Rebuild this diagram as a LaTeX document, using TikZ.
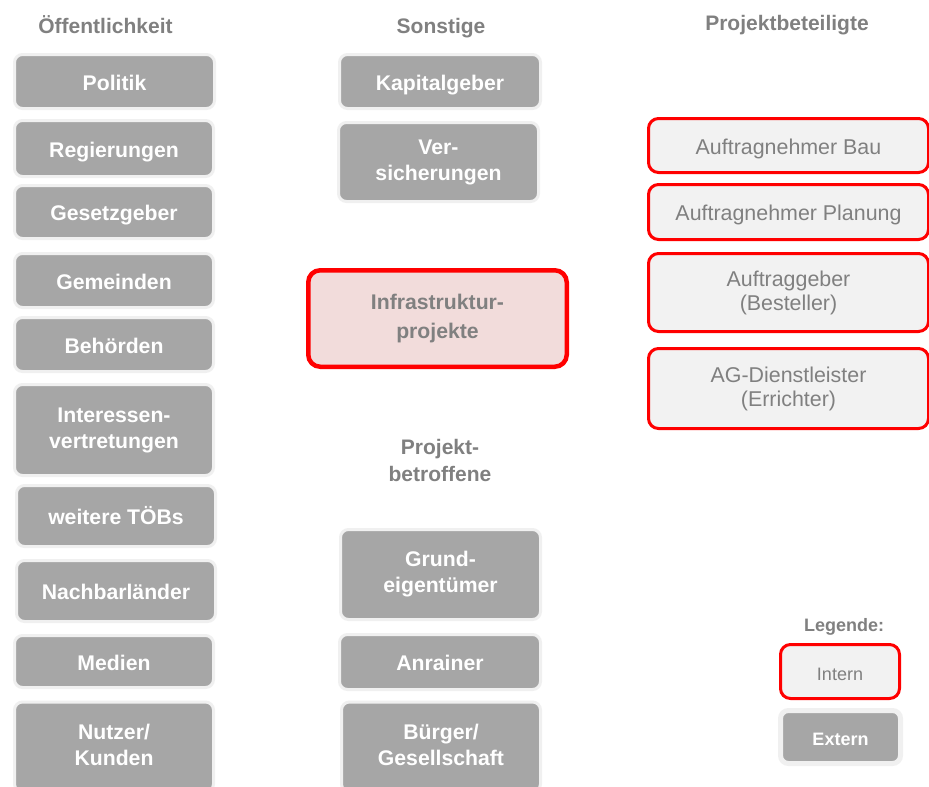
\documentclass[tikz,border=0pt]{standalone}
\usepackage{fontspec}
\setmainfont{Liberation Sans}
\definecolor{boxgray}{HTML}{A6A6A6}
\definecolor{rimgray}{HTML}{F0F0F0}
\definecolor{txtgray}{HTML}{808080}
\definecolor{lightfill}{HTML}{F2F2F2}
\definecolor{pinkfill}{HTML}{F2DCDB}
\definecolor{strongred}{HTML}{FF0000}
% struts that give every line of box text the same height and depth
\newcommand{\topstrut}[1]{\rule{0pt}{#1}}
\newcommand{\botstrut}[1]{\rule[-#1]{0pt}{#1}}
\tikzset{
  struts/.style 2 args={execute at begin node={\topstrut{#1}},
    execute at end node={\botstrut{#2}}},
  ext/.style={rounded corners=8pt, fill=boxgray, draw=rimgray, line width=3pt,
    text=white, font=\bfseries\fontsize{21.2}{26}\selectfont, align=center,
    inner sep=0pt, struts={22pt}{4.5pt}},
  int/.style={rounded corners=10pt, fill=lightfill, draw=strongred, line width=3pt,
    text=txtgray, font=\fontsize{21.4}{24}\selectfont, align=center,
    inner sep=0pt, struts={21.5pt}{4.5pt}},
  core/.style={rounded corners=12pt, fill=pinkfill, draw=strongred, line width=4.5pt,
    text=txtgray, font=\bfseries\fontsize{21.2}{29}\selectfont, align=center,
    inner sep=0pt, struts={22.5pt}{4.5pt}},
  hdr/.style={text=txtgray, font=\bfseries\fontsize{21}{27}\selectfont, align=center, inner sep=0pt},
}
\begin{document}
\begin{tikzpicture}[x=1pt, y=-1pt]
\useasboundingbox[fill=white] (0,0) rectangle (929,787);

% column headers
\node[hdr, anchor=base] (hOeff) at (105.5,34) {Öffentlichkeit};
\node[hdr, anchor=base] (hSonst) at (441,34) {Sonstige};
\node[hdr, anchor=base] (hBet) at (787,30) {Projektbeteiligte};
\node[hdr] (hBetr) at (440,460) {Projekt-\\betroffene};

% public side
\node[ext, minimum width=200pt, minimum height=54pt] (politik) at (114.5,81.5) {Politik};
\node[ext, minimum width=199pt, minimum height=56pt] (regierung) at (114,148.5) {Regierungen};
\node[ext, minimum width=199pt, minimum height=53pt] (gesetz) at (114,212) {Gesetzgeber};
\node[ext, minimum width=199pt, minimum height=54pt] (gemeinden) at (114,280.5) {Gemeinden};
\node[ext, minimum width=199pt, minimum height=54pt] (behoerden) at (114,344.5) {Behörden};
\node[ext, minimum width=199pt, minimum height=91pt] (interessen) at (114,430) {Interessen-\\vertretungen};
\node[ext, minimum width=199pt, minimum height=61pt] (toeb) at (116,516) {weitere TÖBs};
\node[ext, minimum width=199pt, minimum height=61pt] (nachbar) at (116,591) {Nachbarländer};
\node[ext, minimum width=199pt, minimum height=52pt] (medien) at (114,661.5) {Medien};
\node[ext, minimum width=199pt, minimum height=90pt] (nutzer) at (114,747) {Nutzer/\\Kunden};

% other parties
\node[ext, minimum width=201pt, minimum height=54pt] (kapital) at (440,81.5) {Kapitalgeber};
\node[ext, minimum width=200pt, minimum height=79pt, struts={21pt}{4.5pt}] (versich) at (438.5,162) {Ver-\\sicherungen};

% project in the centre
\node[core, minimum width=258.5pt, minimum height=96.5pt] (projekt) at (437.5,318.5) {Infrastruktur-\\projekte};

% affected parties
\node[ext, minimum width=200pt, minimum height=90pt, struts={25pt}{4.5pt}] (grund) at (440.5,574.5) {Grund-\\eigentümer};
\node[ext, minimum width=201pt, minimum height=55pt] (anrainer) at (440,662) {Anrainer};
\node[ext, minimum width=199pt, minimum height=90pt] (buerger) at (441,747) {Bürger/\\Gesellschaft};

% project participants
\node[int, minimum width=280pt, minimum height=54pt] (anBau) at (788.5,145.5) {Auftragnehmer Bau};
\node[int, minimum width=280pt, minimum height=55pt, struts={19.5pt}{4.5pt}] (anPlan) at (788.5,212) {Auftragnehmer Planung};
\node[int, minimum width=280pt, minimum height=78pt] (ag) at (788.5,292.5) {Auftraggeber\\(Besteller)};
\node[int, minimum width=280pt, minimum height=80pt] (agDl) at (788.5,388.5) {AG-Dienstleister\\(Errichter)};

% legend
\node[hdr, font=\bfseries\fontsize{18}{20}\selectfont] (legTitle) at (844,627) {Legende:};
\node[int, font=\fontsize{18}{20}\selectfont, struts={18pt}{3.5pt},
  minimum width=119pt, minimum height=54pt] (legInt) at (840,671.5) {Intern};
\node[ext, font=\bfseries\fontsize{18}{20}\selectfont, struts={18pt}{3.5pt}, line width=5pt,
  minimum width=120pt, minimum height=53pt] (legExt) at (840.5,737) {Extern};
\end{tikzpicture}
\end{document}
